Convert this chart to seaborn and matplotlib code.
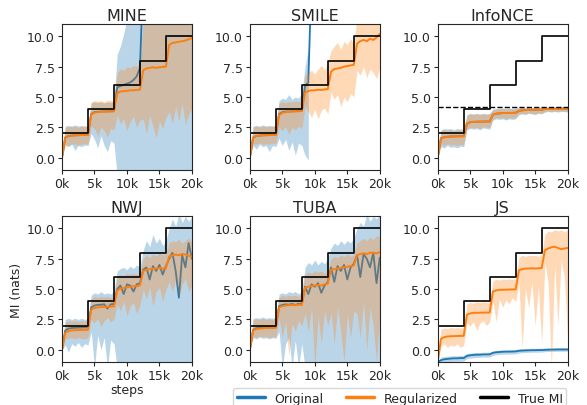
import numpy as np
import pandas as pd
import matplotlib
matplotlib.use("Agg")
import matplotlib.pyplot as plt
from matplotlib.lines import Line2D
import seaborn as sns

# ---------------- data ----------------
steps = list(range(0, 20001, 500))
true_mi_steps = [0, 4000, 8000, 12000, 16000, 20000]
true_mi_values = [2, 4, 6, 8, 10, 10]
infonce_bound = 4.16
titles = ["MINE", "SMILE", "InfoNCE", "NWJ", "TUBA", "JS"]
xtick_values = [0, 5000, 10000, 15000, 20000]
xtick_labels = ["0k", "5k", "10k", "15k", "20k"]
ytick_values = [0.0, 2.5, 5.0, 7.5, 10.0]
ytick_labels = ["0.0", "2.5", "5.0", "7.5", "10.0"]
N = np.nan

# MINE
mine_orig_mid = [0.0, 1.65, 1.78, 1.82, 1.84, 1.85, 1.86, 1.86, 1.87,
                 3.6, 3.75, 3.78, 3.8, 3.8, 3.82, 3.82, 3.85,
                 5.8, 5.9, 6.0, 6.1, 6.2, 6.4, 6.7, 7.4,
                 15.0, N, N, N, N, N, N, N,
                 N, N, N, N, N, N, N, N]
mine_orig_lo = [0.0, 1.0, 0.9, 1.1, 0.6, 1.0, 0.9, 1.05, 1.0,
                2.0, 1.5, 0.8, 1.8, 1.0, 0.5, 1.4, 1.2,
                -1.5, -1.5, -1.5, -1.5, -1.5, -1.5, -1.5, -1.5,
                -1.5, -1.5, -1.5, -1.5, -1.5, -1.5, -1.5, -1.5,
                -1.5, -1.5, -1.5, -1.5, -1.5, -1.5, -1.5, -1.5]
mine_orig_hi = [0.0, 2.6, 2.65, 2.6, 2.7, 2.6, 2.65, 2.6, 2.65,
                4.5, 4.6, 4.55, 4.6, 4.5, 4.6, 4.55, 4.6,
                8.5, 9.2, 10.2, 11.5, 11.5, 11.5, 11.5, 11.5,
                11.5, 11.5, 11.5, 11.5, 11.5, 11.5, 11.5, 11.5,
                11.5, 11.5, 11.5, 11.5, 11.5, 11.5, 11.5, 11.5]
mine_reg_mid = [0.0, 1.65, 1.78, 1.82, 1.84, 1.85, 1.86, 1.86, 1.87,
                3.55, 3.7, 3.75, 3.78, 3.78, 3.8, 3.8, 3.82,
                5.3, 5.45, 5.48, 5.5, 5.55, 5.55, 5.58, 5.6,
                7.2, 7.35, 7.4, 7.45, 7.4, 7.45, 7.48, 7.5,
                9.3, 9.45, 9.5, 9.55, 9.6, 9.65, 9.75, 9.85]
mine_reg_lo = [0.0, 1.1, 1.0, 1.15, 1.1, 1.05, 1.1, 1.15, 1.1,
               2.6, 2.4, 1.8, 2.5, 2.2, 1.7, 2.4, 2.3,
               3.5, 2.8, 3.2, 2.2, 3.0, 3.4, 2.5, 3.1,
               3.2, 2.0, 3.5, 2.6, 1.6, 3.0, 2.4, 3.3,
               3.8, 2.8, 4.2, 3.0, 4.5, 2.7, 3.6, 4.0]
mine_reg_hi = [0.0, 2.5, 2.6, 2.55, 2.6, 2.5, 2.6, 2.55, 2.6,
               4.6, 4.7, 4.65, 4.7, 4.6, 4.75, 4.7, 4.7,
               7.0, 7.3, 7.2, 7.5, 7.4, 7.6, 7.5, 7.8,
               11.5, 11.5, 11.5, 11.5, 11.5, 11.5, 11.5, 11.5,
               11.5, 11.5, 11.5, 11.5, 11.5, 11.5, 11.5, 11.5]

# SMILE
smile_orig_mid = [0.0, 1.65, 1.78, 1.82, 1.84, 1.85, 1.86, 1.86, 1.87,
                  3.6, 3.75, 3.8, 3.8, 3.82, 3.82, 3.85, 3.85,
                  5.9, 6.2, 15.0, N, N, N, N, N,
                  N, N, N, N, N, N, N, N,
                  N, N, N, N, N, N, N, N]
smile_orig_lo = [0.0, 1.0, 0.7, 1.1, 0.9, 1.0, 0.5, 1.0, 0.9,
                 1.6, 1.0, 1.5, 0.6, 1.3, 0.2, 1.2, 1.0,
                 0.2, -0.2, N, N, N, N, N, N,
                 N, N, N, N, N, N, N, N,
                 N, N, N, N, N, N, N, N]
smile_orig_hi = [0.0, 2.6, 2.65, 2.6, 2.7, 2.6, 2.65, 2.6, 2.7,
                 4.7, 4.9, 4.8, 5.2, 4.8, 5.0, 4.9, 5.3,
                 7.5, 9.0, N, N, N, N, N, N,
                 N, N, N, N, N, N, N, N,
                 N, N, N, N, N, N, N, N]
smile_reg_mid = [0.0, 1.65, 1.78, 1.82, 1.84, 1.85, 1.86, 1.86, 1.87,
                 3.5, 3.7, 3.75, 3.78, 3.8, 3.82, 3.82, 3.85,
                 5.35, 5.5, 5.55, 5.55, 5.6, 5.58, 5.62, 5.65,
                 7.1, 7.3, 7.35, 7.4, 7.5, 7.55, 7.6, 7.65,
                 9.4, 9.6, 9.7, 9.6, 9.8, 9.7, 9.9, 10.2]
smile_reg_lo = [0.0, 1.15, 1.1, 1.2, 1.1, 1.15, 1.1, 1.2, 1.15,
                2.5, 2.2, 2.6, 1.9, 2.5, 2.3, 2.6, 2.4,
                4.2, 3.8, 3.3, 4.0, 3.2, 3.9, 4.1, 3.6,
                5.4, 4.8, 5.2, 4.2, 5.0, 4.6, 5.3, 5.0,
                7.2, 6.8, 7.5, 6.6, 7.3, 7.0, 6.5, 7.4]
smile_reg_hi = [0.0, 2.55, 2.6, 2.55, 2.6, 2.55, 2.6, 2.6, 2.55,
                4.5, 4.6, 4.55, 4.6, 4.6, 4.65, 4.6, 4.65,
                6.8, 7.0, 7.2, 6.9, 7.3, 7.6, 7.2, 7.8,
                8.8, 9.2, 9.5, 8.9, 9.6, 9.3, 9.8, 9.4,
                11.5, 11.5, 11.5, 11.5, 11.5, 11.5, 11.5, 11.5]

# InfoNCE
infonce_orig_mid = [0.0, 1.6, 1.68, 1.72, 1.74, 1.75, 1.76, 1.76, 1.77,
                    2.8, 2.92, 2.95, 2.96, 2.97, 2.97, 2.98, 2.98,
                    3.55, 3.62, 3.65, 3.67, 3.68, 3.68, 3.69, 3.7,
                    3.85, 3.9, 3.92, 3.93, 3.94, 3.95, 3.95, 3.95,
                    4.0, 4.02, 4.02, 4.03, 4.03, 4.04, 4.04, 4.04]
infonce_orig_lo = [0.0, 0.9, 0.8, 1.0, 0.85, 0.9, 0.8, 0.95, 0.9,
                   2.3, 2.4, 2.35, 2.4, 2.3, 2.45, 2.4, 2.35,
                   3.1, 3.2, 3.15, 3.2, 3.1, 3.2, 3.15, 3.2,
                   3.55, 3.6, 3.55, 3.65, 3.6, 3.55, 3.65, 3.6,
                   3.75, 3.8, 3.75, 3.8, 3.75, 3.8, 3.8, 3.75]
infonce_orig_hi = [0.0, 2.3, 2.4, 2.35, 2.4, 2.3, 2.4, 2.35, 2.4,
                   3.55, 3.65, 3.6, 3.65, 3.6, 3.65, 3.6, 3.65,
                   4.0, 4.05, 4.05, 4.1, 4.05, 4.1, 4.05, 4.1,
                   4.12, 4.14, 4.12, 4.14, 4.14, 4.12, 4.14, 4.14,
                   4.15, 4.16, 4.16, 4.16, 4.16, 4.16, 4.16, 4.16]
infonce_reg_mid = [0.0, 1.6, 1.68, 1.72, 1.74, 1.75, 1.76, 1.76, 1.77,
                   2.8, 2.92, 2.95, 2.96, 2.97, 2.97, 2.98, 2.98,
                   3.55, 3.62, 3.65, 3.67, 3.68, 3.68, 3.69, 3.7,
                   3.85, 3.9, 3.92, 3.93, 3.94, 3.95, 3.95, 3.95,
                   4.0, 4.02, 4.02, 4.03, 4.03, 4.04, 4.04, 4.04]
infonce_reg_lo = [0.0, 1.1, 1.0, 1.15, 1.05, 1.1, 1.0, 1.1, 1.05,
                  2.4, 2.5, 2.45, 2.5, 2.4, 2.55, 2.5, 2.45,
                  3.2, 3.3, 3.25, 3.3, 3.2, 3.3, 3.25, 3.3,
                  3.6, 3.65, 3.6, 3.7, 3.65, 3.6, 3.7, 3.65,
                  3.8, 3.85, 3.8, 3.85, 3.8, 3.85, 3.85, 3.8]
infonce_reg_hi = [0.0, 2.2, 2.3, 2.25, 2.3, 2.2, 2.3, 2.25, 2.3,
                  3.5, 3.6, 3.55, 3.6, 3.55, 3.6, 3.55, 3.6,
                  3.95, 4.0, 4.0, 4.05, 4.0, 4.05, 4.0, 4.05,
                  4.1, 4.12, 4.1, 4.12, 4.12, 4.1, 4.12, 4.12,
                  4.14, 4.15, 4.15, 4.15, 4.15, 4.15, 4.15, 4.15]

# NWJ
nwj_orig_mid = [0.0, 1.6, 1.75, 1.8, 1.82, 1.83, 1.84, 1.85, 1.85,
                3.5, 3.65, 3.7, 3.72, 3.75, 3.4, 3.75, 3.78,
                5.0, 5.3, 4.6, 5.4, 5.3, 4.8, 5.4, 5.5,
                6.6, 6.8, 5.8, 6.9, 6.5, 7.0, 6.2, 6.9,
                7.5, 8.0, 6.5, 4.3, 7.8, 6.8, 8.8, 7.5]
nwj_orig_lo = [0.0, 0.4, -0.2, 0.5, 0.3, 0.6, 0.2, 0.5, 0.4,
               1.5, -1.5, 1.2, 0.0, 1.0, -1.5, 0.8, 0.5,
               -1.5, -1.5, -1.5, -1.5, -1.5, -1.5, -1.5, -1.5,
               -1.5, -1.5, -1.5, -1.5, -1.5, -1.5, -1.5, -1.5,
               -1.5, -1.5, -1.5, -1.5, -1.5, -1.5, -1.5, -1.5]
nwj_orig_hi = [0.0, 2.5, 2.6, 2.5, 2.6, 2.5, 2.6, 2.5, 2.6,
               4.5, 4.7, 4.6, 4.8, 4.6, 4.7, 4.6, 4.8,
               6.5, 6.7, 6.8, 6.6, 6.9, 6.7, 7.0, 6.8,
               8.2, 9.0, 8.5, 9.5, 8.8, 9.2, 8.6, 9.0,
               10.0, 10.8, 10.2, 11.2, 10.5, 11.0, 10.6, 11.0]
nwj_reg_mid = [0.0, 1.4, 1.55, 1.6, 1.62, 1.63, 1.64, 1.65, 1.65,
               3.3, 3.45, 3.5, 3.52, 3.55, 3.55, 3.57, 3.58,
               4.9, 5.05, 5.1, 5.15, 5.2, 5.25, 5.25, 5.3,
               6.5, 6.6, 6.65, 6.7, 6.7, 6.75, 6.7, 6.72,
               7.7, 7.8, 7.85, 7.8, 7.9, 7.85, 7.75, 7.7]
nwj_reg_lo = [0.0, 0.9, 0.95, 1.0, 0.9, 1.0, 0.95, 0.9, 1.0,
              2.5, 2.2, 2.6, 1.9, 2.4, 2.7, 2.3, 2.5,
              3.8, 3.2, 4.0, 2.8, 3.6, 3.9, 3.0, 3.7,
              5.0, 4.2, 5.2, 3.6, 4.8, 5.1, 4.0, 5.0,
              5.6, 4.8, 5.8, 4.3, 5.4, 5.9, 4.8, 5.3]
nwj_reg_hi = [0.0, 2.3, 2.4, 2.35, 2.4, 2.3, 2.4, 2.35, 2.4,
              4.2, 4.4, 4.3, 4.4, 4.35, 4.4, 4.3, 4.4,
              6.0, 6.2, 6.1, 6.3, 6.2, 6.3, 6.2, 6.3,
              7.5, 7.8, 7.6, 7.9, 7.7, 8.0, 7.8, 7.9,
              8.8, 9.0, 8.9, 9.1, 8.8, 9.0, 9.2, 8.9]

# TUBA
tuba_orig_mid = [0.0, 1.65, 1.78, 1.82, 1.84, 1.85, 1.86, 1.86, 1.87,
                 3.6, 3.7, 3.75, 3.72, 3.78, 3.7, 3.8, 3.78,
                 5.2, 4.6, 5.4, 5.2, 5.5, 4.7, 5.3, 5.6,
                 6.8, 5.6, 6.9, 6.5, 7.0, 5.8, 6.8, 7.1,
                 7.8, 6.0, 7.9, 7.5, 6.8, 8.0, 5.5, 7.6]
tuba_orig_lo = [0.0, 1.0, 0.9, 1.05, 0.95, 1.0, 0.9, 1.0, 0.95,
                1.5, -1.5, 0.5, 1.0, -1.5, 0.8, -1.5, 0.5,
                -1.5, -1.5, -1.5, -1.5, -1.5, -1.5, -1.5, -1.5,
                -1.5, -1.5, -1.5, -1.5, -1.5, -1.5, -1.5, -1.5,
                -1.5, -1.5, -1.5, -1.5, -1.5, -1.5, -1.5, -1.5]
tuba_orig_hi = [0.0, 2.6, 2.65, 2.6, 2.7, 2.6, 2.65, 2.6, 2.7,
                4.6, 4.7, 4.6, 4.8, 4.7, 4.8, 4.6, 4.8,
                6.8, 7.2, 7.0, 7.4, 7.0, 7.3, 7.1, 7.5,
                8.4, 8.8, 8.6, 9.0, 8.7, 9.0, 8.8, 9.2,
                10.0, 10.5, 10.2, 11.2, 10.6, 11.0, 10.8, 11.2]
tuba_reg_mid = [0.0, 1.6, 1.72, 1.76, 1.78, 1.8, 1.8, 1.8, 1.82,
                3.5, 3.6, 3.65, 3.68, 3.7, 3.68, 3.72, 3.7,
                5.1, 5.2, 5.25, 5.3, 5.35, 5.3, 5.4, 5.45,
                6.6, 6.65, 6.7, 6.75, 6.8, 6.85, 6.9, 6.95,
                7.8, 7.9, 7.95, 7.9, 8.0, 8.0, 7.95, 8.05]
tuba_reg_lo = [0.0, 1.1, 1.0, 1.15, 1.05, 1.1, 1.0, 1.1, 1.05,
               2.6, 1.0, 2.4, -0.5, 2.2, 1.5, 2.4, 2.0,
               3.0, 1.5, 3.5, -1.5, 2.8, 0.5, 3.2, 2.0,
               3.0, 0.5, 3.5, 1.5, -1.0, 3.0, 1.0, 3.2,
               3.0, 1.0, 4.0, 0.0, 3.5, 2.0, -1.0, 3.0]
tuba_reg_hi = [0.0, 2.5, 2.55, 2.5, 2.6, 2.5, 2.55, 2.5, 2.6,
               4.3, 4.5, 4.4, 4.5, 4.45, 4.5, 4.4, 4.5,
               6.2, 6.4, 6.3, 6.5, 6.4, 6.5, 6.3, 6.5,
               7.5, 7.7, 7.6, 7.8, 7.7, 7.9, 7.7, 7.8,
               8.8, 9.0, 9.2, 9.0, 9.3, 9.1, 9.4, 9.3]

# JS
js_orig_mid = [-1.0, -0.85, -0.78, -0.75, -0.72, -0.7, -0.7, -0.68, -0.68,
               -0.5, -0.45, -0.42, -0.4, -0.4, -0.38, -0.38, -0.37,
               -0.25, -0.2, -0.18, -0.16, -0.15, -0.15, -0.14, -0.13,
               -0.08, -0.06, -0.05, -0.04, -0.03, -0.03, -0.02, -0.02,
               0.0, 0.01, 0.02, 0.02, 0.03, 0.03, 0.03, 0.03]
js_orig_lo = [-1.2, -1.1, -1.05, -1.0, -0.98, -0.95, -0.95, -0.93, -0.93,
              -0.72, -0.68, -0.65, -0.62, -0.62, -0.6, -0.6, -0.6,
              -0.45, -0.4, -0.38, -0.36, -0.35, -0.35, -0.34, -0.33,
              -0.26, -0.24, -0.22, -0.21, -0.2, -0.2, -0.19, -0.19,
              -0.15, -0.14, -0.13, -0.13, -0.12, -0.12, -0.12, -0.12]
js_orig_hi = [-1.0, -0.6, -0.55, -0.52, -0.5, -0.48, -0.48, -0.46, -0.46,
              -0.3, -0.26, -0.24, -0.22, -0.22, -0.2, -0.2, -0.19,
              -0.08, -0.04, -0.02, 0.0, 0.01, 0.01, 0.02, 0.02,
              0.08, 0.1, 0.11, 0.12, 0.12, 0.13, 0.13, 0.13,
              0.15, 0.16, 0.16, 0.17, 0.17, 0.17, 0.17, 0.17]
js_reg_mid = [-1.0, 0.9, 1.05, 1.1, 1.12, 1.13, 1.14, 1.15, 1.15,
              2.9, 3.0, 3.05, 3.05, 3.06, 3.07, 3.07, 3.08,
              4.8, 4.9, 4.95, 4.95, 4.96, 4.97, 4.98, 4.98,
              6.55, 6.65, 6.7, 6.7, 6.72, 6.7, 6.72, 6.74,
              8.2, 8.35, 8.45, 8.5, 8.4, 8.3, 8.35, 8.4]
js_reg_lo = [-1.0, 0.3, 0.5, 0.2, 0.4, 0.3, 0.5, 0.2, 0.4,
             2.2, 2.0, 2.3, 1.6, 2.2, 2.4, 2.0, 2.3,
             4.0, 2.3, 4.2, 3.5, 4.1, 3.8, 4.3, 4.0,
             5.5, 0.1, 5.0, 3.5, 5.6, 2.0, 5.2, 0.5,
             7.2, 5.5, -1.5, 7.0, 2.0, 7.3, 6.0, 1.0]
js_reg_hi = [-1.0, 1.7, 1.8, 1.75, 1.85, 1.8, 1.85, 1.8, 1.85,
             3.8, 3.9, 3.85, 3.95, 3.9, 3.95, 3.9, 3.95,
             5.7, 5.8, 5.75, 5.85, 5.8, 5.85, 5.8, 5.85,
             7.6, 7.8, 7.7, 7.8, 7.75, 7.8, 7.7, 7.85,
             9.5, 9.8, 9.7, 9.9, 9.8, 9.9, 9.7, 9.9]

panels = [
    ("MINE", mine_orig_mid, mine_orig_lo, mine_orig_hi, mine_reg_mid, mine_reg_lo, mine_reg_hi),
    ("SMILE", smile_orig_mid, smile_orig_lo, smile_orig_hi, smile_reg_mid, smile_reg_lo, smile_reg_hi),
    ("InfoNCE", infonce_orig_mid, infonce_orig_lo, infonce_orig_hi, infonce_reg_mid, infonce_reg_lo, infonce_reg_hi),
    ("NWJ", nwj_orig_mid, nwj_orig_lo, nwj_orig_hi, nwj_reg_mid, nwj_reg_lo, nwj_reg_hi),
    ("TUBA", tuba_orig_mid, tuba_orig_lo, tuba_orig_hi, tuba_reg_mid, tuba_reg_lo, tuba_reg_hi),
    ("JS", js_orig_mid, js_orig_lo, js_orig_hi, js_reg_mid, js_reg_lo, js_reg_hi),
]

# ---------------- plot ----------------
sns.set_style("ticks")
plt.rcParams["font.family"] = ["DejaVu Sans"]

C_ORIG = "#1f77b4"
C_REG = "#ff7f0e"

fig, axes = plt.subplots(2, 3, figsize=(5.87, 4.06), dpi=100)
fig.subplots_adjust(left=0.1056, right=0.967, top=0.938, bottom=0.106,
                    wspace=0.446, hspace=0.32)

x = np.array(steps, dtype=float)
for ax, (name, om, ol, oh, rm, rl, rh) in zip(axes.flat, panels):
    # original
    ax.fill_between(x, ol, oh, color=C_ORIG, alpha=0.3, lw=0, zorder=1)
    dfo = pd.DataFrame({"step": x, "mi": om}).dropna()
    sns.lineplot(data=dfo, x="step", y="mi", ax=ax, color=C_ORIG, lw=1.3,
                 estimator=None, sort=False, zorder=2)
    # regularized (drawn above the original smoothed line)
    ax.fill_between(x, rl, rh, color=C_REG, alpha=0.3, lw=0, zorder=3)
    dfr = pd.DataFrame({"step": x, "mi": rm})
    sns.lineplot(data=dfr, x="step", y="mi", ax=ax, color=C_REG, lw=1.4,
                 estimator=None, sort=False, zorder=4)
    # true MI
    dft = pd.DataFrame({"step": true_mi_steps, "mi": true_mi_values})
    sns.lineplot(data=dft, x="step", y="mi", ax=ax, color="black", lw=1.2,
                 drawstyle="steps-post", estimator=None, sort=False, zorder=5)
    if name == "InfoNCE":
        ax.axhline(infonce_bound, color="black", ls="--", lw=1.0, zorder=5)

    ax.set_title(name, fontsize=11.5, pad=3)
    ax.set_xlim(0, 20000)
    ax.set_ylim(-1, 11)
    ax.set_xticks(xtick_values)
    ax.set_xticklabels(xtick_labels)
    ax.set_yticks(ytick_values)
    ax.set_yticklabels(ytick_labels)
    ax.tick_params(labelsize=9, length=3, pad=2)
    ax.set_xlabel("")
    ax.set_ylabel("")
    for s in ax.spines.values():
        s.set_linewidth(0.8)
        s.set_zorder(6)

axes[1, 0].set_xlabel("steps", fontsize=9, labelpad=1)
axes[1, 0].set_ylabel("MI (nats)", fontsize=9, labelpad=3)

handles = [Line2D([0], [0], color=C_ORIG, lw=2.5),
           Line2D([0], [0], color=C_REG, lw=2.5),
           Line2D([0], [0], color="black", lw=2.5)]
fig.legend(handles, ["Original", "Regularized", "True MI"], ncol=3,
           loc="upper right", bbox_to_anchor=(0.965, 0.042), fontsize=9,
           frameon=True, handlelength=2.2, columnspacing=1.8,
           borderaxespad=0.0, borderpad=0.3)

fig.savefig("out.png", dpi=100)
